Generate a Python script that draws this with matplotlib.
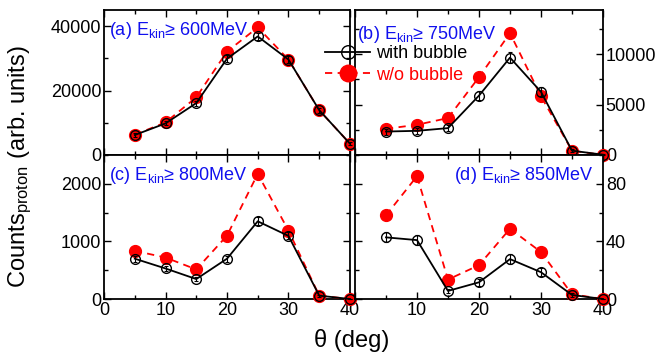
import matplotlib
matplotlib.use("Agg")
import matplotlib.pyplot as plt
from matplotlib.ticker import MultipleLocator, FixedLocator, FixedFormatter

plt.rcParams['font.family'] = ['Liberation Sans', 'DejaVu Sans']
plt.rcParams['mathtext.fontset'] = 'custom'
plt.rcParams['mathtext.rm'] = 'Liberation Sans'
plt.rcParams['mathtext.it'] = 'Liberation Sans:italic'

theta = [5, 10, 15, 20, 25, 30, 35, 40]

with_a = [6200, 9800, 16100, 29900, 36800, 29600, 13900, 3500]
wo_a = [6300, 10100, 17900, 32100, 39600, 29600, 13900, 3500]
err_a = [500, 600, 800, 1100, 1200, 1100, 750, 400]

with_b = [2330, 2400, 2670, 5900, 9670, 6270, 430, 30]
wo_b = [2600, 3000, 3670, 7730, 12100, 5830, 430, 0]
err_b = [300, 300, 300, 450, 550, 450, 120, 30]

with_c = [700, 530, 346, 700, 1349, 1095, 58, 0]
wo_c = [836, 720, 513, 1100, 2173, 1187, 58, 0]
err_c = [50, 45, 36, 50, 70, 62, 15, 0]

with_d = [42.8, 40.9, 5.6, 11.6, 27.7, 18.6, 2.8, 0]
wo_d = [58.1, 85.3, 13.5, 23.5, 48.8, 32.6, 3.3, 0]
err_d = [3.5, 3.5, 1.6, 2.3, 3.5, 2.9, 1.2, 0]

labels = [r'(a) E$_{\rm kin}$≥ 600MeV', r'(b) E$_{\rm kin}$≥ 750MeV',
          r'(c) E$_{\rm kin}$≥ 800MeV', r'(d) E$_{\rm kin}$≥ 850MeV']
ylims = [45000, 14400, 2500, 100]
ymajor = [20000, 5000, 1000, 40]
yminor = [10000, 2500, 500, 20]
xticks = [0, 10, 20, 30, 40]

W, H = 661, 359
fig = plt.figure(figsize=(W / 100, H / 100), dpi=100)

def rect(x0, y0, x1, y1):
    return [x0 / W, 1 - y1 / H, (x1 - x0) / W, (y1 - y0) / H]

axa = fig.add_axes(rect(104, 10, 350, 155))
axb = fig.add_axes(rect(355, 10, 603, 155))
axc = fig.add_axes(rect(104, 155, 350, 299))
axd = fig.add_axes(rect(355, 155, 603, 299))
axes = [axa, axb, axc, axd]
withs = [with_a, with_b, with_c, with_d]
wos = [wo_a, wo_b, wo_c, wo_d]
errs = [err_a, err_b, err_c, err_d]
labpos = [(0.02, 0.93, 'left'), (0.01, 0.90, 'left'), (0.02, 0.93, 'left'), (0.40, 0.93, 'left')]

handles = None
for i, ax in enumerate(axes):
    l2, = ax.plot(theta, wos[i], color='red', ls=(0, (4, 3)), lw=1.3, marker='o',
                  ms=8.5, mfc='red', mec='red', zorder=3, clip_on=False)
    ax.errorbar(theta, withs[i], yerr=errs[i], fmt='none', ecolor='black', elinewidth=0.8,
                capsize=1.5, capthick=0.8, zorder=5, clip_on=False)
    l1, = ax.plot(theta, withs[i], color='black', ls='-', lw=1.3, marker='o', ms=7,
                  mfc='none', mec='black', mew=1.0, zorder=4, clip_on=False)
    if handles is None:
        handles = (l1, l2)
    ax.set_xlim(0, 40)
    ax.set_ylim(0, ylims[i])
    ax.xaxis.set_major_locator(FixedLocator(xticks))
    ax.xaxis.set_minor_locator(MultipleLocator(5))
    ax.yaxis.set_major_locator(MultipleLocator(ymajor[i]))
    ax.yaxis.set_minor_locator(MultipleLocator(yminor[i]))
    ax.tick_params(which='both', direction='in', top=True, bottom=True, left=True, right=True,
                   labelsize=13, width=1.0, pad=2)
    ax.tick_params(which='major', length=5)
    ax.tick_params(which='minor', length=3)
    for s in ax.spines.values():
        s.set_linewidth(1.3)
    if i in (1, 3):
        ax.yaxis.tick_right()
        ax.yaxis.set_ticks_position('both')
        ax.tick_params(labelleft=False, labelright=True)
    if i in (0, 1):
        ax.tick_params(labelbottom=False)
    if i == 3:
        ax.xaxis.set_major_formatter(FixedFormatter(['', '10', '20', '30', '40']))
    x, y, ha = labpos[i]
    ax.text(x, y, labels[i], transform=ax.transAxes, color='#1010ee', fontsize=13,
            ha=ha, va='top')

leg = fig.legend(handles, ['with bubble', 'w/o bubble'], loc='upper left',
                 bbox_to_anchor=(316 / W, 1 - 36 / H), frameon=False, fontsize=13,
                 handlelength=2.5, handletextpad=0.3, labelspacing=0.25, borderpad=0,
                 markerscale=1.4)
for t, c in zip(leg.get_texts(), ['black', 'red']):
    t.set_color(c)

fig.text(20 / W, 1 - 167 / H, r'Counts$_{\rm proton}$ (arb. units)', rotation=90,
         fontsize=17, ha='center', va='center')
fig.text(352 / W, 1 - 341 / H, 'θ (deg)', fontsize=17, ha='center', va='center')

fig.savefig('out.png', dpi=100)
